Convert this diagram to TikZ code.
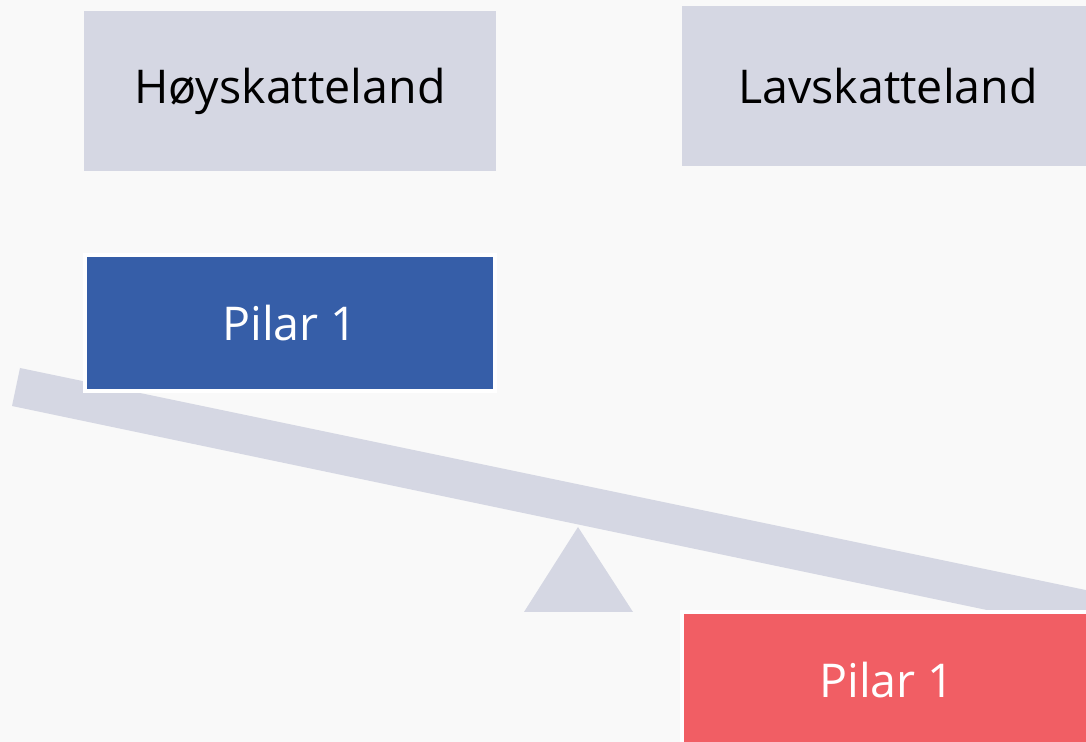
\documentclass[tikz,border=0pt]{standalone}
\usepackage{fontspec}
\setmainfont{Open Sans}
\usepackage{tikz}
\definecolor{bggray}{HTML}{F9F9F9}
\definecolor{landgray}{HTML}{D5D7E3}
\definecolor{pilarblue}{HTML}{365EA8}
\definecolor{pilarred}{HTML}{F15E64}
\tikzstyle{landbox}=[rectangle, fill=landgray, minimum width=8.26cm, minimum height=3.2cm, font=\fontsize{26.5}{30}\selectfont]
\tikzstyle{pilarbox}=[rectangle, draw=white, line width=1.8pt, minimum width=8.2cm, minimum height=2.72cm, text=white, font=\fontsize{26.5}{30}\selectfont]
\newcommand{\landbox}{\node[landbox]}

\begin{document}
\begin{tikzpicture}[x=0.02cm, y=-0.02cm]
    \useasboundingbox (0,0) rectangle (1086,742);
    \clip (0,0) rectangle (1086,742);
    \fill[bggray] (0,0) rectangle (1086,742);
    % landene
    \landbox (hoy) at (290,91) {Høyskatteland};
    \landbox (lav) at (888,86) {Lavskatteland};
    % vippa
    \fill[landgray] (20,368) -- (1100,593) -- (1092,632) -- (12,406) -- cycle;
    \fill[landgray] (578,527) -- (633,612) -- (524,612) -- cycle;
    % pilarene
    \node[pilarbox, fill=pilarblue] (pilarh) at (290,323) {Pilar 1};
    \node[pilarbox, fill=pilarred] (pilarl) at (887,680) {Pilar 1};
\end{tikzpicture}
\end{document}
